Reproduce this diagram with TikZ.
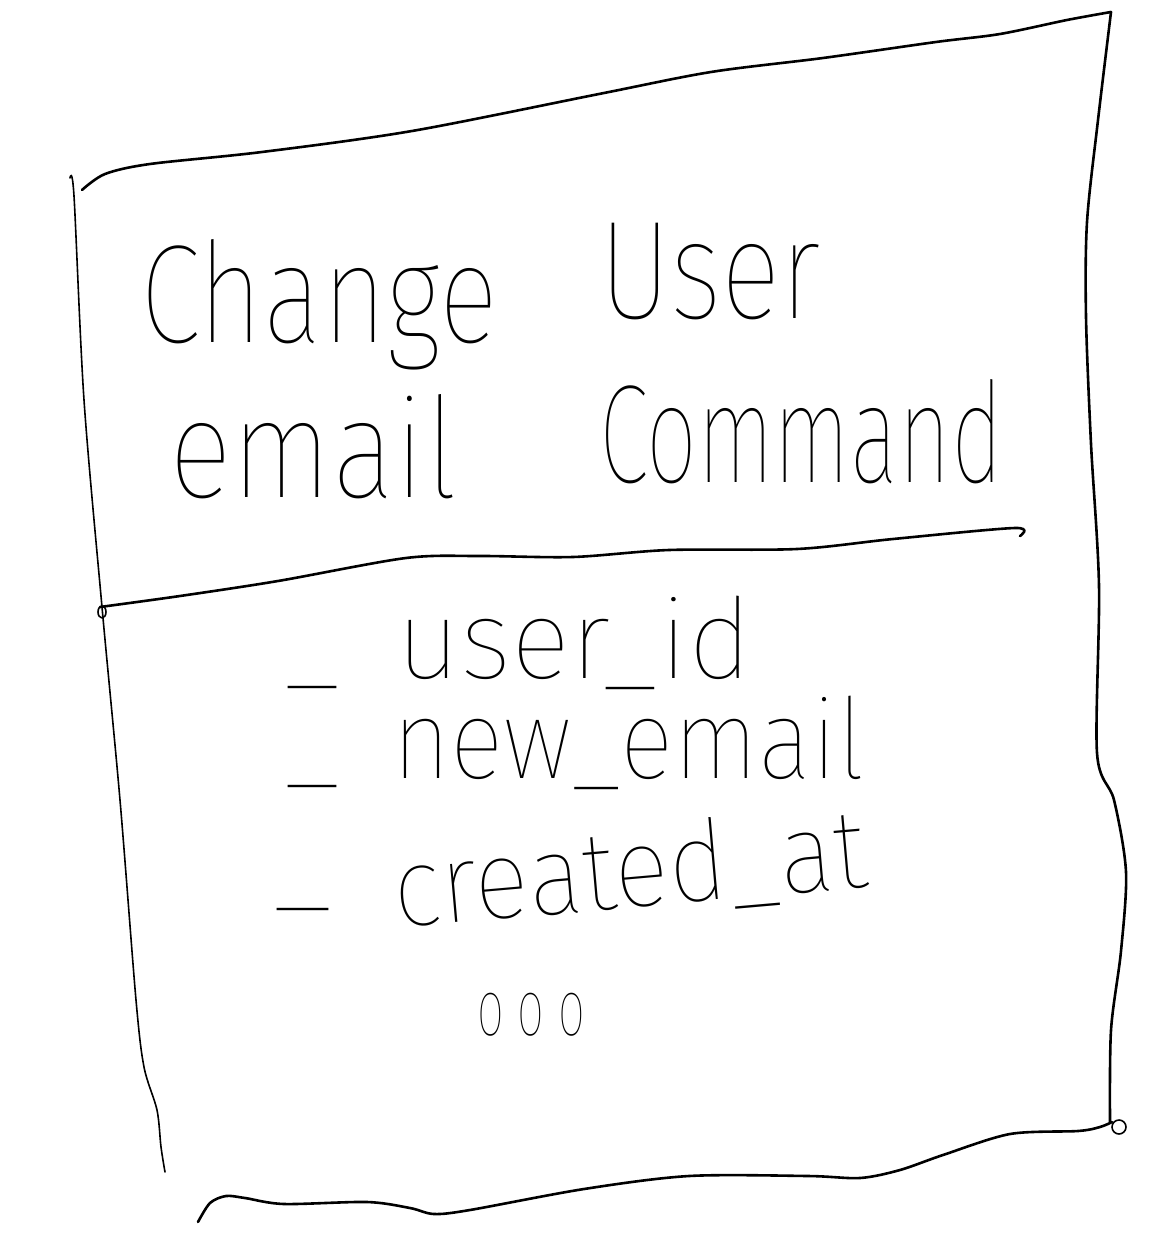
\documentclass[tikz,border=0pt]{standalone}
\usepackage{fontspec}
\usepackage{graphicx}
% thin sans for the hand-lettered words, with fallbacks
\IfFontExistsTF{Fira Sans Thin}{\newfontfamily\handfont{Fira Sans Thin}}{%
  \IfFontExistsTF{FiraSans-Thin.otf}{\newfontfamily\handfont{FiraSans-Thin.otf}}{%
    \newfontfamily\handfont{Fira Sans}}}
% squeeze a word to a given width, keeping its height
\newcommand\fitto[2]{\resizebox{#1pt}{\height}{#2}}
\begin{document}
\begin{tikzpicture}[x=1pt,y=-1pt,
  pen/.style={line width=2.6pt,line cap=round,line join=round},
  side/.style={line width=1.6pt,line cap=round,line join=round},
  title/.style={anchor=base west,inner sep=0pt,font=\handfont\fontsize{140}{140}\selectfont},
  item/.style={anchor=base west,inner sep=0pt,font=\handfont\fontsize{112}{112}\selectfont}]
\useasboundingbox[fill=white] (0,0) rectangle (1168,1236);

% card outline
\draw[pen] plot[smooth] coordinates {(82,190) (105,174) (150,164) (262,152) (412,131) (599,94) (711,72) (823,58) (936,42) (1000,34) (1067,20) (1111,12)};
\draw[pen] plot[smooth] coordinates {(1111,12) (1098,120) (1087,222) (1086,317) (1091,444) (1099,586) (1097,753) (1114,800) (1126,872) (1121,951) (1111,1030) (1110,1122)};
\draw[side] (1119,1127) ellipse[x radius=7,y radius=7];
\draw[side] plot[smooth] coordinates {(70,178) (74,196) (84,400) (102,607) (120,800) (136,1000) (144,1067) (157,1110) (161,1147) (165,1172)};
\draw[pen] plot[smooth] coordinates {(198,1222) (210,1203) (226,1196) (245,1198) (284,1204) (367,1202) (410,1208) (434,1214) (470,1210) (584,1189) (689,1176) (808,1176) (860,1178) (900,1170) (943,1155) (1010,1134) (1078,1131) (1100,1127) (1112,1122)};

% divider between name and fields
\draw[pen] plot[smooth] coordinates {(100,607) (180,596) (278,581) (406,558) (480,556) (573,557) (669,550) (797,549) (893,539) (1015,528) (1020,536)};
\draw[side] (102,612) ellipse[x radius=4,y radius=6];

% class name
\node[title] (change)  at (140,342) {\fitto{358}{Change}};
\node[title] (user)    at (599,318) {\fitto{222}{User}};
\node[title] (email)   at (169,497) {\fitto{289}{email}};
\node[title] (command) at (599,482) {\fitto{404}{Command}};

% fields
\node[item] (d1) at (272,722) {\fitto{80}{-}};
\node[item] (f1) at (396,678) {\fitto{356}{user\_id}};
\node[item] (d2) at (272,821) {\fitto{80}{-}};
\node[item] (f2) at (392,778) {\fitto{473}{new\_email}};
\node[item] (d3) at (260,944) {\fitto{85}{-}};
\node[item,rotate=5] (f3) at (396,928) {\fitto{475}{created\_at}};
\node[item,font=\handfont\fontsize{80}{80}\selectfont] (more) at (477,1035) {\fitto{108}{o o o}};
\end{tikzpicture}
\end{document}
